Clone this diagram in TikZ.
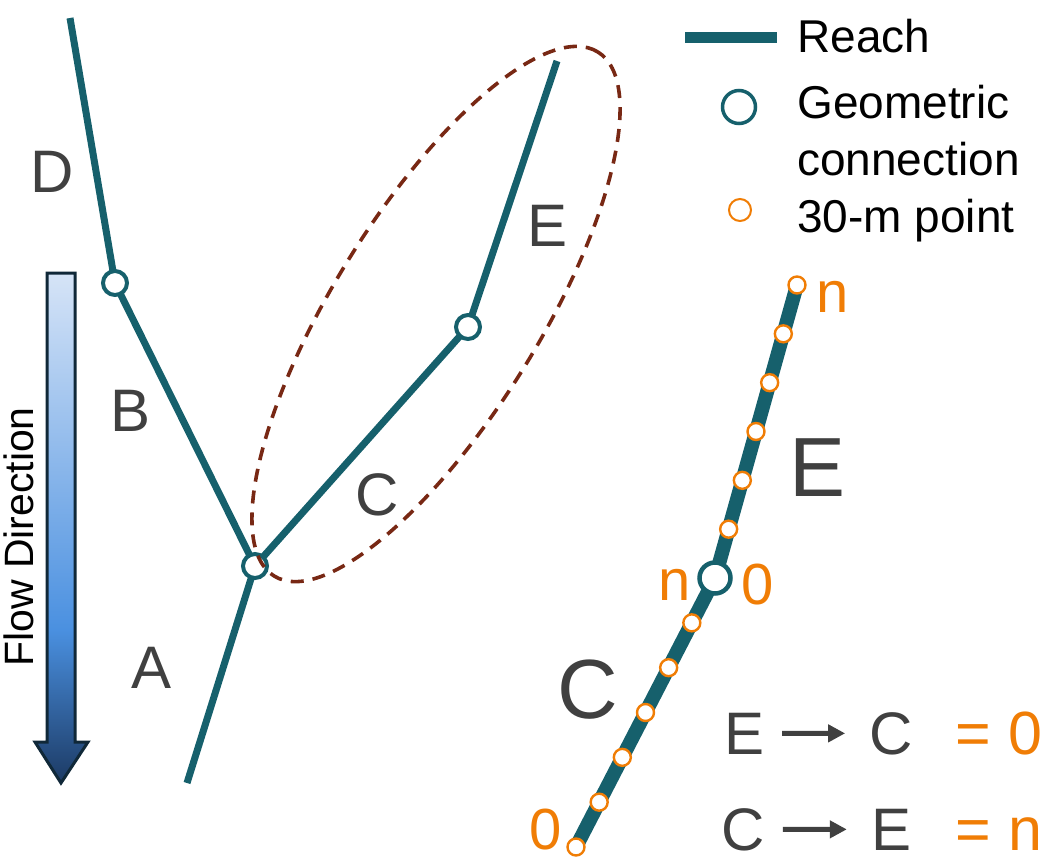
\documentclass[tikz,border=0pt]{standalone}
\usepackage{fontspec}
\setmainfont{Liberation Sans}
\usetikzlibrary{arrows.meta,calc}
\definecolor{reachteal}{RGB}{22,96,108}
\definecolor{ptorange}{RGB}{240,125,5}
\definecolor{hullbrown}{RGB}{120,40,20}
\definecolor{lblgray}{RGB}{64,64,64}
\definecolor{flowlight}{RGB}{214,228,247}
\definecolor{flowmid}{RGB}{74,144,224}
\definecolor{flowdark}{RGB}{28,58,100}
\definecolor{flowline}{RGB}{16,40,56}
\pgfdeclareverticalshading{flowshade}{100bp}{color(0bp)=(flowdark); color(25bp)=(flowdark); color(40bp)=(flowmid); color(75bp)=(flowlight); color(100bp)=(flowlight)}
\tikzset{
  reach/.style={draw=reachteal,line width=7},
  geo/.style={circle,draw=reachteal,fill=white,line width=4,minimum size=24,inner sep=0},
  pt/.style={circle,draw=ptorange,fill=white,line width=2.4,minimum size=17,inner sep=0},
  lbl/.style={text=lblgray,inner sep=0,font=\fontsize{60}{60}\selectfont},
  biglbl/.style={text=lblgray,inner sep=0,font=\fontsize{84}{84}\selectfont},
  idx/.style={text=ptorange,inner sep=0,font=\fontsize{58}{58}\selectfont},
  legtext/.style={inner sep=0,font=\fontsize{46}{57}\selectfont},
  hull/.style={draw=hullbrown,line width=3.6,dash pattern=on 13pt off 9pt}
}
\begin{document}
\begin{tikzpicture}[x=1pt,y=-1pt]
\useasboundingbox (0,0) rectangle (1051,865);
% flow direction arrow
\shade[shading=flowshade,draw=flowline,line width=3,line join=miter]
  (47,273) -- (75,273) -- (75,742) -- (88,742) -- (61,783) -- (35,742) -- (47,742) -- cycle;
\node[legtext,font=\fontsize{41}{41}\selectfont,rotate=90] (flow) at (19,537) {Flow Direction};
% network
\coordinate (d0) at (70,18);
\coordinate (bd) at (115,283);
\coordinate (jn) at (255,566);
\coordinate (a0) at (187,783);
\coordinate (ce) at (468,327);
\coordinate (e0) at (557,61);
\draw[reach] (d0) -- (bd) -- (jn) -- (a0);
\draw[reach] (jn) -- (ce) -- (e0);
\node[geo] (bdnode) at (bd) {};
\node[geo] (jnnode) at (jn) {};
\node[geo] (cenode) at (ce) {};
\draw[hull,rotate around={58.3:(436,314)}] (436,314) ellipse [x radius=308pt,y radius=103pt];
\node[lbl] (D) at (52,172) {D};
\node[lbl] (B) at (131,411) {B};
\node[lbl] (A) at (152,668) {A};
\node[lbl] (C) at (377,495) {C};
\node[lbl] (E) at (548,226) {E};
% the C+E reach with its 30-m points
\coordinate (c0) at (576,847);
\coordinate (cn) at (715,578);
\coordinate (en) at (797,285);
\draw[reach,line width=14] (c0) -- (cn) -- (en);
\node[geo,minimum size=31,line width=4.5] (cnnode) at (cn) {};
\foreach \k in {0,...,5}
  \node[pt] (cpt\k) at ($(c0)!\k/6!(cn)$) {};
\foreach \k in {1,...,6}
  \node[pt] (ept\k) at ($(cn)!\k/6!(en)$) {};
\node[idx] (etop) at (833,297) {n};
\node[idx] (cend) at (675,585) {n};
\node[idx] (ebeg) at (758,585) {0};
\node[idx] (cbeg) at (546,830) {0};
\node[biglbl] (Ebig) at (818,468) {E};
\node[biglbl] (Cbig) at (588,690) {C};
% order rules
\node[lbl,anchor=base] (eq1a) at (744,754) {E};
\node[lbl,anchor=base] (eq1b) at (891,754) {C};
\node[idx,anchor=base,font=\fontsize{61}{61}\selectfont] (eq1c) at (999,754) {= 0};
\node[lbl,anchor=base] (eq2a) at (743,850) {C};
\node[lbl,anchor=base] (eq2b) at (891,850) {E};
\node[idx,anchor=base,font=\fontsize{61}{61}\selectfont] (eq2c) at (999,850) {= n};
\draw[lblgray,line width=5,-{Triangle[length=17pt,width=17pt]},shorten <=18pt,shorten >=24pt] (eq1a) -- (eq1b);
\draw[lblgray,line width=5,-{Triangle[length=17pt,width=17pt]},shorten <=18pt,shorten >=24pt] (eq2a) -- (eq2b);
% legend
\coordinate (legA) at (685,37);
\coordinate (legB) at (777,37);
\draw[reach,line width=11] (legA) -- (legB);
\node[legtext,anchor=base west] (legreach) at (797,52) {Reach};
\node[geo,minimum size=33,line width=3.5] (leggeo) at (739,107) {};
\node[legtext,anchor=west,align=left] (leggeotext) at (797,131) {Geometric\\connection};
\node[pt,minimum size=22,line width=2] (legpt) at (740,210) {};
\node[legtext,anchor=base west] (legpttext) at (797,232) {30-m point};
\end{tikzpicture}
\end{document}
